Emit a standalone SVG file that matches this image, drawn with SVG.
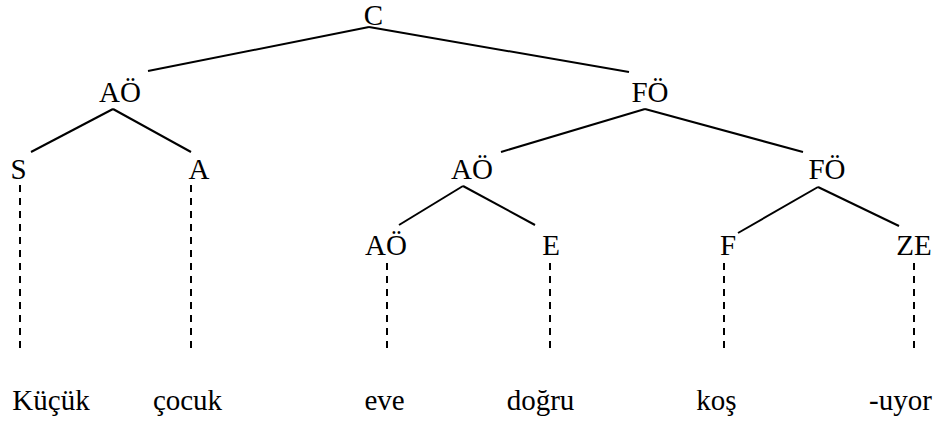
<svg xmlns="http://www.w3.org/2000/svg" width="937" height="423" viewBox="0 0 937 423">
<rect width="937" height="423" fill="#fff"/>
<g id="connectors" stroke="#000" stroke-width="2" fill="none">
<g id="edges">
<line x1="369" y1="27" x2="148" y2="71"/>
<line x1="369" y1="27" x2="629" y2="72"/>
<line x1="113" y1="109" x2="31" y2="152"/>
<line x1="113" y1="109" x2="191" y2="152"/>
<line x1="645" y1="109" x2="501" y2="152"/>
<line x1="645" y1="109" x2="803" y2="152"/>
<line x1="463" y1="186" x2="399" y2="225"/>
<line x1="463" y1="186" x2="535" y2="225"/>
<line x1="818" y1="187" x2="738" y2="233"/>
<line x1="818" y1="187" x2="899" y2="226"/>
</g>
<g id="dashed" stroke-dasharray="7 6">
<line x1="20" y1="185" x2="20" y2="350"/>
<line x1="191" y1="185" x2="191" y2="350"/>
<line x1="387" y1="263" x2="387" y2="350"/>
<line x1="550" y1="263" x2="550" y2="350"/>
<line x1="724" y1="263" x2="724" y2="350"/>
<line x1="914" y1="263" x2="914" y2="350"/>
</g>
</g>
<g font-family="Liberation Serif" font-size="29" fill="#000" text-anchor="middle">
<g id="C"><text x="373.5" y="25">C</text></g>
<g id="AO1"><text x="120" y="102">AÖ</text></g>
<g id="FO1"><text x="650" y="102">FÖ</text></g>
<g id="S"><text x="18.5" y="179">S</text></g>
<g id="A"><text x="199" y="179">A</text></g>
<g id="AO2"><text x="472" y="179">AÖ</text></g>
<g id="FO2"><text x="827" y="179">FÖ</text></g>
<g id="AO3"><text x="386" y="255">AÖ</text></g>
<g id="E"><text x="551" y="255">E</text></g>
<g id="F"><text x="728" y="255">F</text></g>
<g id="ZE"><text x="914" y="255">ZE</text></g>
<g id="w1"><text x="51" y="410">Küçük</text></g>
<g id="w2"><text x="187.5" y="410">çocuk</text></g>
<g id="w3"><text x="384.5" y="410">eve</text></g>
<g id="w4"><text x="540.5" y="410">doğru</text></g>
<g id="w5"><text x="716.5" y="410">koş</text></g>
<g id="w6"><text x="900.5" y="410">-uyor</text></g>
</g>
</svg>
